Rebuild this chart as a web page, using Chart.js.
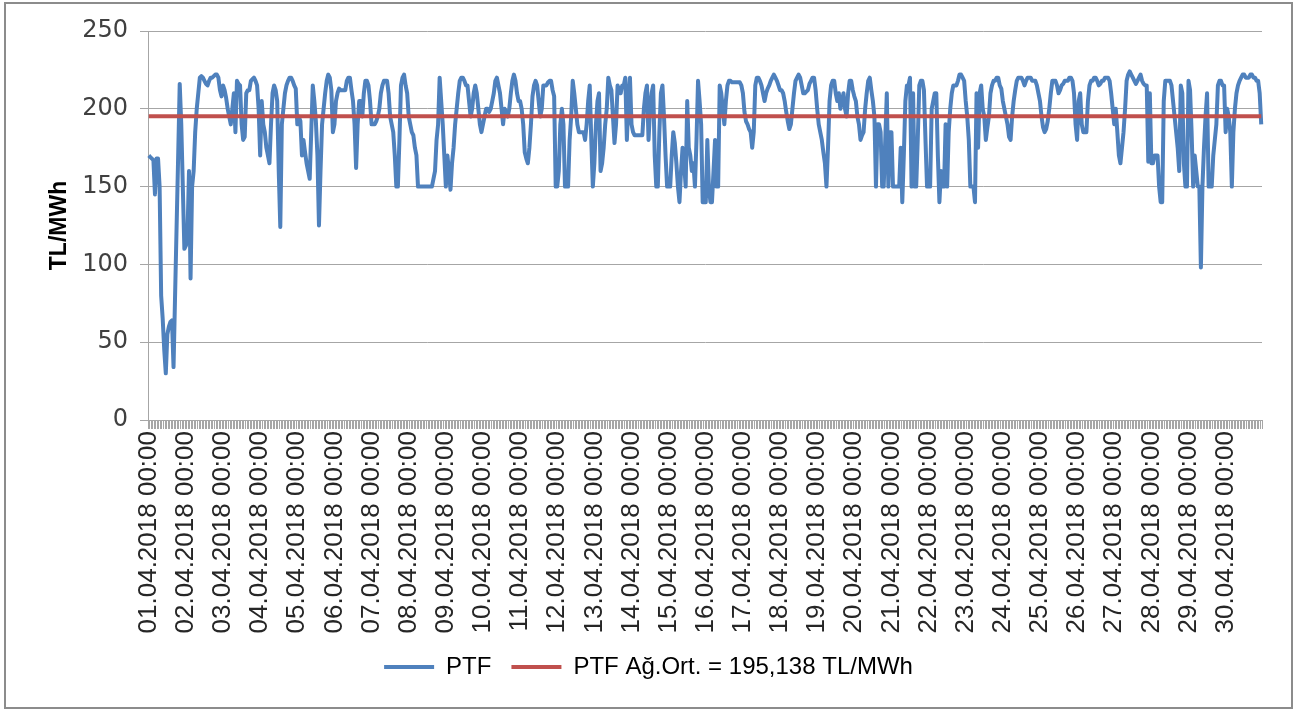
<!DOCTYPE html>
<html lang="tr">
<head>
<meta charset="UTF-8">
<title>PTF Nisan 2018</title>
<script src="https://cdn.jsdelivr.net/npm/chart.js"></script>
<style>
  body { margin: 0; background: #fff; }
  #wrap { position: absolute; left: 0; top: 0; width: 1297px; height: 711px; }
  .frame { position: absolute; left: 4px; top: 2px; width: 1289px; height: 707px;
           border: 2px solid #8c8c8c; box-sizing: border-box; pointer-events: none; }
</style>
</head>
<body>
<div id="wrap"><canvas id="ptfChart"></canvas></div>
<div class="frame"></div>
<script>
// gunler (x ekseni etiketleri her 24 saatte bir)
const days = ['01.04.2018','02.04.2018','03.04.2018','04.04.2018','05.04.2018','06.04.2018',
  '07.04.2018','08.04.2018','09.04.2018','10.04.2018','11.04.2018','12.04.2018','13.04.2018',
  '14.04.2018','15.04.2018','16.04.2018','17.04.2018','18.04.2018','19.04.2018','20.04.2018',
  '21.04.2018','22.04.2018','23.04.2018','24.04.2018','25.04.2018','26.04.2018','27.04.2018',
  '28.04.2018','29.04.2018','30.04.2018'];
const hours = ['00','01','02','03','04','05','06','07','08','09','10','11',
  '12','13','14','15','16','17','18','19','20','21','22','23'];

// saatlik PTF (TL/MWh), her satir bir gun
const ptf = [
  170,169,168,167,145,168,168,150,80,65,45,30,55,60,63,64,34,80,125,170,216,190,150,110,
  112,118,160,91,150,160,185,200,210,220,221,220,218,216,215,218,220,220,221,222,222,220,212,208,
  215,212,207,200,195,190,200,210,185,218,216,215,190,180,182,210,212,212,218,219,220,218,215,200,
  170,205,190,185,175,170,165,190,210,215,212,205,160,124,190,200,210,215,218,220,220,218,215,213,
  190,195,192,170,180,172,165,160,155,185,215,205,192,170,125,160,190,200,210,218,222,220,212,185,
  190,205,210,213,212,212,212,212,218,220,220,212,205,190,162,190,205,205,195,210,218,218,215,205,
  190,190,190,192,195,200,210,215,218,218,218,210,195,190,185,170,150,150,180,215,220,222,215,210,
  195,190,185,183,175,170,150,150,150,150,150,150,150,150,150,150,155,160,180,190,220,205,190,170,
  150,170,160,148,165,175,190,200,210,218,220,220,218,215,215,205,195,200,210,215,210,200,190,185,
  190,195,200,200,198,200,205,210,218,220,215,210,200,190,200,198,195,200,210,218,222,218,210,205,
  205,200,190,172,168,165,175,190,208,215,218,215,205,195,200,215,215,215,217,218,218,212,208,150,
  150,160,190,200,190,150,150,150,180,195,218,210,200,190,185,185,185,185,180,190,205,215,180,150,
  165,190,205,210,160,165,175,190,200,220,215,212,195,178,190,215,212,210,215,215,220,180,205,220,
  190,185,183,183,183,183,183,183,200,210,215,180,200,210,215,170,150,150,185,210,215,195,170,150,
  150,150,170,185,178,165,150,140,160,175,165,150,205,175,170,160,165,150,180,218,205,190,140,140,
  140,180,150,140,140,160,180,150,150,215,210,200,190,205,215,218,218,217,217,217,217,217,217,215,
  210,198,192,190,187,185,175,185,215,220,220,218,215,210,205,210,213,215,218,220,222,220,218,215,
  212,212,210,205,198,192,187,190,200,210,218,220,222,220,215,210,210,211,212,216,218,220,220,212,
  200,190,185,180,172,165,150,175,205,215,218,218,210,205,210,200,205,210,200,195,210,218,218,212,
  208,205,195,190,180,183,185,200,210,218,220,212,205,195,150,190,190,185,150,150,180,210,150,185,
  185,150,150,150,150,150,175,140,170,205,215,215,220,150,210,150,150,180,215,218,218,212,180,150,
  150,150,200,205,210,210,170,140,160,150,150,190,150,185,200,210,215,215,215,218,222,222,220,218,
  205,195,180,150,150,150,140,210,175,210,215,200,195,180,188,195,210,215,218,218,220,220,215,213,
  205,200,195,190,182,180,195,205,212,218,220,220,220,218,215,218,220,220,220,218,218,218,215,210,
  205,195,188,185,187,192,200,210,218,218,218,215,210,212,215,216,218,218,218,220,220,218,210,190,
  180,205,210,190,185,185,185,205,215,218,218,220,220,218,215,216,218,218,220,220,220,218,210,200,
  190,200,185,170,165,175,185,200,218,222,224,222,220,218,216,218,220,222,218,216,215,215,166,210,
  165,165,170,170,170,150,140,140,205,218,218,218,218,215,205,195,185,175,160,215,210,165,150,150,
  218,212,185,150,170,160,150,150,98,150,175,195,210,150,150,150,170,180,190,215,218,218,215,215,
  185,200,195,185,150,185,200,210,215,218,220,222,222,220,220,220,222,222,220,220,218,218,210,190
];
const ptfAvg = 195.138;

const labels = [];
days.forEach(d => hours.forEach(h => labels.push(d + ' ' + h + ':00')));

const gridColor = '#a6a6a6';

new Chart(document.getElementById('ptfChart'), {
  type: 'line',
  data: {
    labels: labels,
    datasets: [{
      label: 'PTF',
      data: ptf,
      borderColor: '#4f81bd',
      backgroundColor: '#4f81bd',
      borderWidth: 4,
      pointRadius: 0,
      borderJoinStyle: 'round',
      order: 1
    }, {
      label: 'PTF Ağ.Ort. = 195,138 TL/MWh',
      data: labels.map(() => ptfAvg),
      borderColor: '#c0504d',
      backgroundColor: '#c0504d',
      borderWidth: 4,
      pointRadius: 0,
      order: 0
    }]
  },
  options: {
    responsive: true,
    maintainAspectRatio: false,
    animation: false,
    layout: { padding: { top: 31, right: 0, bottom: 22, left: 0 } },
    scales: {
      x: {
        offset: true,
        grid: { display: true, drawOnChartArea: false, drawTicks: true, tickLength: 9, color: gridColor, offset: true },
        border: { display: true, color: gridColor },
        ticks: {
          autoSkip: false,
          minRotation: 90,
          maxRotation: 90,
          padding: 2,
          color: '#262626',
          font: { family: 'Liberation Sans', size: 26 },
          callback: (v, i) => (i % 24 === 0 ? labels[i] : '')
        },
        afterFit: s => { s.height = 215; }
      },
      y: {
        min: 0,
        max: 250,
        ticks: {
          stepSize: 50,
          padding: 12,
          color: '#404040',
          font: { family: 'DejaVu Sans', size: 24 }
        },
        grid: { color: gridColor, tickLength: 8 },
        border: { display: true, color: gridColor },
        title: {
          display: true,
          text: 'TL/MWh',
          color: '#000',
          font: { family: 'Liberation Sans', size: 23, weight: 'bold' },
          padding: { top: 46, bottom: 0 }
        },
        afterFit: s => { s.width = 148; }
      },
      // bos sag eksen: cizim alanini 1262'de bitirmek icin
      yRight: {
        position: 'right',
        display: true,
        grid: { display: false },
        border: { display: false },
        ticks: { display: false },
        afterFit: s => { s.width = 35; }
      }
    },
    plugins: {
      tooltip: { enabled: false },
      legend: {
        position: 'bottom',
        labels: {
          usePointStyle: true,
          pointStyle: 'line',
          pointStyleWidth: 50,
          boxWidth: 50,
          padding: 20,
          color: '#000',
          font: { family: 'Liberation Sans', size: 24 },
          sort: (a, b) => a.datasetIndex - b.datasetIndex
        }
      }
    }
  }
});
</script>
</body>
</html>
